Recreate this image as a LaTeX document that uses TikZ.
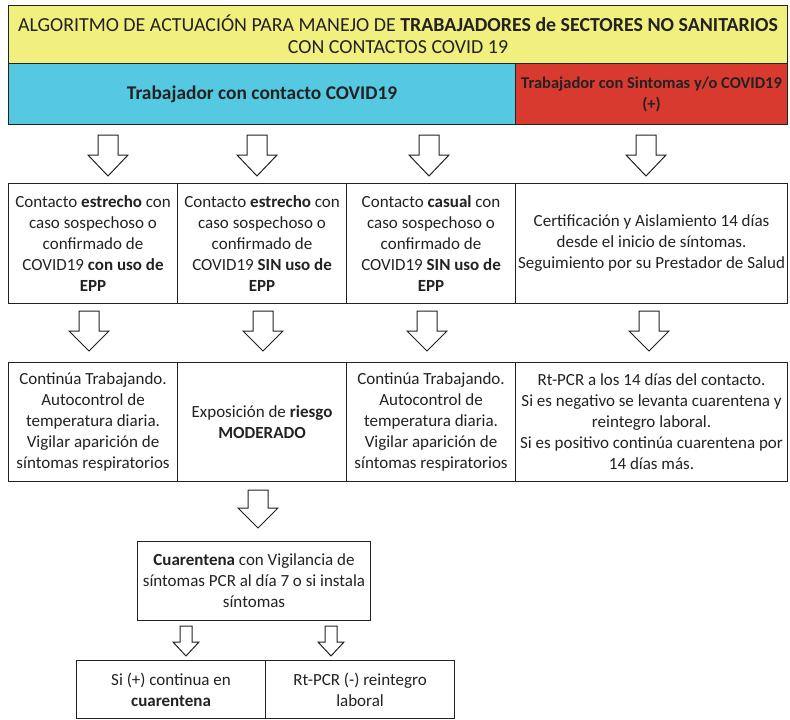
\documentclass[tikz,border=0pt]{standalone}
\usepackage{fontspec}
\setmainfont{Carlito}
\definecolor{hdryellow}{HTML}{F1EF7E}
\definecolor{hdrblue}{HTML}{55C8E2}
\definecolor{hdrred}{HTML}{D93A2F}
\definecolor{ink}{HTML}{222222}
\newcommand{\blockarr}[6]{%
  \draw[barrow] ({#1-#5},{#2}) -- ({#1+#5},{#2}) -- ({#1+#5},{#3}) -- ({#1+#6},{#3})
    -- ({#1},{#4}) -- ({#1-#6},{#3}) -- ({#1-#5},{#3}) -- cycle;}
\tikzset{
  box/.style={draw=ink, line width=1.1pt, anchor=north west, inner sep=0pt,
    align=center, text=ink, font=\fontsize{17}{21}\selectfont},
  barrow/.style={draw=ink, fill=white, line width=1pt, line join=miter},
}
\begin{document}
\begin{tikzpicture}[x=1pt,y=-1pt]
\useasboundingbox (0,0) rectangle (790,720);
% header
\node[box, fill=hdryellow, minimum width=779pt, minimum height=58pt, font=\fontsize{19.9}{22}\selectfont] (title) at (8,5)
  {ALGORITMO DE ACTUACIÓN PARA MANEJO DE \textbf{TRABAJADORES de SECTORES NO SANITARIOS}\\CON CONTACTOS COVID 19};
\node[box, fill=hdrblue, minimum width=507pt, minimum height=61pt, font=\fontsize{19.4}{23}\selectfont\bfseries] (blue) at (8,63)
  {Trabajador con contacto COVID19};
\node[box, fill=hdrred, minimum width=272pt, minimum height=61pt, font=\fontsize{16.5}{21}\selectfont\bfseries] (red) at (515,63)
  {Trabajador con Sintomas y/o COVID19\\(+)};
% row 1
\node[box, minimum width=169pt, minimum height=120pt] (b11) at (8,183)
  {Contacto \textbf{estrecho} con\\caso sospechoso o\\confirmado de\\COVID19 \textbf{con uso de}\\\textbf{EPP}};
\node[box, minimum width=169pt, minimum height=120pt] (b12) at (177,183)
  {Contacto \textbf{estrecho} con\\caso sospechoso o\\confirmado de\\COVID19 \textbf{SIN uso de}\\\textbf{EPP}};
\node[box, minimum width=169pt, minimum height=120pt] (b13) at (346,183)
  {Contacto \textbf{casual} con\\caso sospechoso o\\confirmado de\\COVID19 \textbf{SIN uso de}\\\textbf{EPP}};
\node[box, minimum width=272pt, minimum height=120pt] (b14) at (515,183)
  {Certificación y Aislamiento 14 días\\desde el inicio de síntomas.\\Seguimiento por su Prestador de Salud};
% row 2
\node[box, minimum width=169pt, minimum height=119pt] (b21) at (8,362)
  {Continúa Trabajando.\\Autocontrol de\\temperatura diaria.\\Vigilar aparición de\\síntomas respiratorios};
\node[box, minimum width=169pt, minimum height=119pt] (b22) at (177,362)
  {Exposición de \textbf{riesgo}\\\textbf{MODERADO}};
\node[box, minimum width=169pt, minimum height=119pt] (b23) at (346,362)
  {Continúa Trabajando.\\Autocontrol de\\temperatura diaria.\\Vigilar aparición de\\síntomas respiratorios};
\node[box, minimum width=272pt, minimum height=119pt] (b24) at (515,362)
  {Rt-PCR a los 14 días del contacto.\\Si es negativo se levanta cuarentena y\\reintegro laboral.\\Si es positivo continúa cuarentena por\\14 días más.};
% cuarentena
\node[box, minimum width=233pt, minimum height=79pt] (cuar) at (137,541)
  {\textbf{Cuarentena} con Vigilancia de\\síntomas PCR al día 7 o si instala\\síntomas};
% bottom
\node[box, minimum width=189pt, minimum height=58pt] (pos) at (76,660)
  {Si (+) continua en\\\textbf{cuarentena}};
\node[box, minimum width=189pt, minimum height=58pt] (neg) at (265,660)
  {Rt-PCR (-) reintegro\\laboral};
% block arrows
\blockarr{108}{135}{155}{176}{10}{20}
\blockarr{257}{135}{155}{176}{10}{20}
\blockarr{429}{135}{155}{176}{10}{20}
\blockarr{646}{135}{155}{176}{10}{20}
\blockarr{89}{311}{331}{351}{10}{20}
\blockarr{263}{311}{331}{351}{10}{20}
\blockarr{427}{311}{331}{351}{10}{20}
\blockarr{649}{311}{331}{351}{10}{20}
\blockarr{258}{490}{508}{528}{10}{20}
\blockarr{186}{626}{642}{656}{6}{13}
\blockarr{331}{626}{642}{656}{6}{13}
\end{tikzpicture}
\end{document}
